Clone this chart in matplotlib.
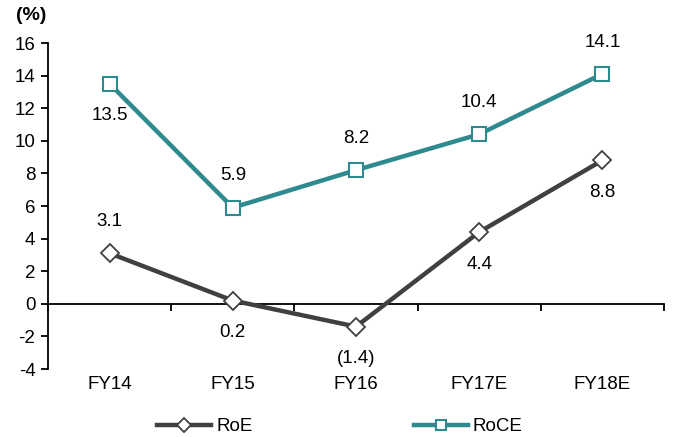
import matplotlib
matplotlib.use("Agg")
import matplotlib.pyplot as plt

plt.rcParams['font.family'] = ['Liberation Sans', 'DejaVu Sans']
plt.rcParams['axes.unicode_minus'] = False

years = ["FY14", "FY15", "FY16", "FY17E", "FY18E"]
roe = [3.1, 0.2, -1.4, 4.4, 8.8]
roce = [13.5, 5.9, 8.2, 10.4, 14.1]
roe_labels = ["3.1", "0.2", "(1.4)", "4.4", "8.8"]
roce_labels = ["13.5", "5.9", "8.2", "10.4", "14.1"]
# +1 puts the label above the point, -1 below
roe_side = [1, -1, -1, -1, -1]
roce_side = [-1, 1, 1, 1, 1]

dark = "#404040"
teal = "#2E8A8E"
fs = 13.5

fig = plt.figure(figsize=(6.73, 4.37), dpi=100)
ax = fig.add_axes([0.0713, 0.1556, 0.9153, 0.746])

x = list(range(len(years)))
ax.plot(x, roe, color=dark, lw=3.2, marker="D", ms=9, mfc="white",
        mec=dark, mew=1.3, label="RoE", zorder=3)
ax.plot(x, roce, color=teal, lw=3.2, marker="s", ms=10.5, mfc="white",
        mec=teal, mew=1.5, label="RoCE", zorder=3)

for vals, labs, sides in [(roe, roe_labels, roe_side),
                          (roce, roce_labels, roce_side)]:
    for xi, v, t, s in zip(x, vals, labs, sides):
        ax.annotate(t, (xi, v), xytext=(0, 23 * s), textcoords="offset points",
                    ha="center", va="center", fontsize=fs, color="black")

ax.set_xlim(-0.5, 4.5)
ax.set_ylim(-4, 16)
ax.set_yticks(range(-4, 17, 2))

# category axis sits on zero, ticks between categories
ax.spines["bottom"].set_position(("data", 0))
ax.spines["bottom"].set_linewidth(1.3)
ax.set_xticks([i - 0.5 for i in range(len(years) + 1)])
ax.set_xticklabels([])
ax.tick_params(axis="x", length=5, width=1.3, direction="out")
for xi, name in zip(x, years):
    ax.text(xi, -0.047, name, transform=ax.get_xaxis_transform(),
            ha="center", va="center", fontsize=fs)

ax.tick_params(axis="y", length=5, width=1.3, direction="out", labelsize=fs, pad=4)
for side in ["top", "right"]:
    ax.spines[side].set_visible(False)
ax.spines["left"].set_linewidth(1.3)

fig.text(0.047, 0.965, "(%)", fontsize=14, fontweight="bold",
         ha="center", va="center")

fig.legend(loc="lower center", bbox_to_anchor=(0.505, -0.035), ncol=2,
           frameon=False, fontsize=fs, handlelength=2.9, columnspacing=8.6,
           handletextpad=0.25, numpoints=1, markerscale=0.75)

fig.savefig("out.png", dpi=100)
